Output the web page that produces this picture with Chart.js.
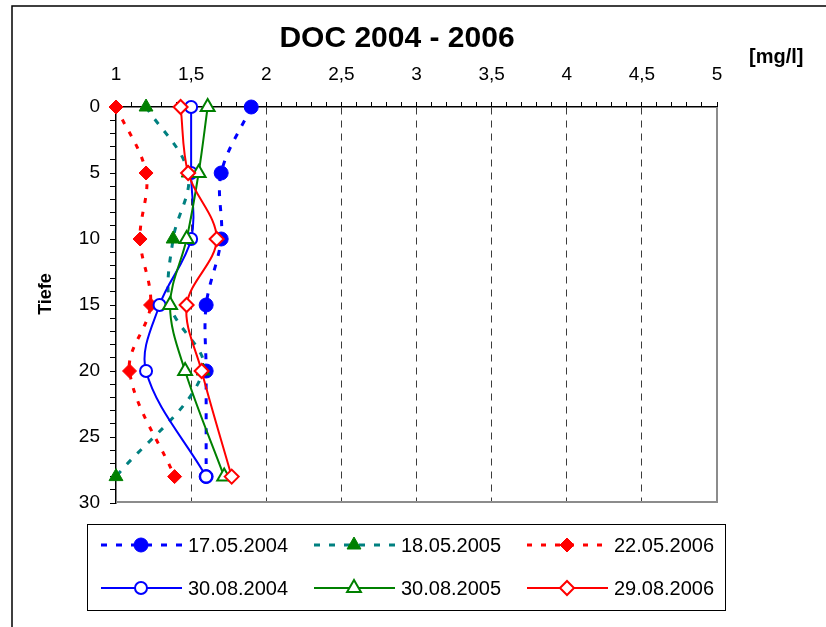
<!DOCTYPE html>
<html>
<head>
<meta charset="utf-8">
<script src="https://cdn.jsdelivr.net/npm/chart.js@4.4.1/dist/chart.umd.min.js"></script>
<style>
  html, body { margin: 0; padding: 0; background: #fff; }
  #chart { display: block; }
</style>
</head>
<body>
<canvas id="chart" width="826" height="627"></canvas>
<script>
// DOC depth profiles 2004 - 2006 (x = DOC in mg/l, y = depth)

const depths = [0, 5, 10, 15, 20, 28];

const doc170504 = [1.9, 1.7, 1.7, 1.6, 1.6, 1.6];
const doc180505 = [1.2, 1.48, 1.38, 1.36, 1.58, 1.0];
const doc220506 = [1.0, 1.2, 1.16, 1.23, 1.09, 1.39];
const doc300804 = [1.5, 1.5, 1.5, 1.29, 1.2, 1.6];
const doc300805 = [1.61, 1.55, 1.47, 1.36, 1.46, 1.72];
const doc290806 = [1.43, 1.48, 1.67, 1.47, 1.57, 1.77];

const xTickValues = [1, 1.5, 2, 2.5, 3, 3.5, 4, 4.5, 5];
const xTickLabels = ["1", "1,5", "2", "2,5", "3", "3,5", "4", "4,5", "5"];
const yTickValues = [0, 5, 10, 15, 20, 25, 30];
const yTickLabels = ["0", "5", "10", "15", "20", "25", "30"];

const FONT = "'Liberation Sans', Arial, sans-serif";

function points(values) {
  return values.map((v, i) => ({ x: v, y: depths[i] }));
}

function labelFor(values, labels, v) {
  const i = values.findIndex((t) => Math.abs(t - v) < 1e-6);
  return i >= 0 ? labels[i] : "";
}

const datasets = [
  {
    label: "17.05.2004",
    data: points(doc170504),
    borderColor: "#0000ff",
    borderWidth: 3,
    borderDash: [6, 9],
    pointStyle: "circle",
    pointRadius: 7,
    pointBackgroundColor: "#0000ff",
    pointBorderColor: "#0000ff",
    pointBorderWidth: 1,
    order: 5,
  },
  {
    label: "18.05.2005",
    data: points(doc180505),
    borderColor: "#008080",
    borderWidth: 3,
    borderDash: [6, 9],
    pointStyle: "triangle",
    pointRadius: 8,
    pointBackgroundColor: "#008000",
    pointBorderColor: "#008000",
    pointBorderWidth: 1,
    order: 4,
  },
  {
    label: "22.05.2006",
    data: points(doc220506),
    borderColor: "#ff0000",
    borderWidth: 3,
    borderDash: [5, 9],
    pointStyle: "rectRot",
    pointRadius: 7,
    pointBackgroundColor: "#ff0000",
    pointBorderColor: "#ff0000",
    pointBorderWidth: 1,
    order: 3,
  },
  {
    label: "30.08.2004",
    data: points(doc300804),
    borderColor: "#0000ff",
    borderWidth: 2,
    pointStyle: "circle",
    pointRadius: 6,
    pointBackgroundColor: "#ffffff",
    pointBorderColor: "#0000ff",
    pointBorderWidth: 2,
    order: 2,
  },
  {
    label: "30.08.2005",
    data: points(doc300805),
    borderColor: "#008000",
    borderWidth: 2,
    pointStyle: "triangle",
    pointRadius: 8,
    pointBackgroundColor: "#ffffff",
    pointBorderColor: "#008000",
    pointBorderWidth: 2,
    order: 1,
  },
  {
    label: "29.08.2006",
    data: points(doc290806),
    borderColor: "#ff0000",
    borderWidth: 2,
    pointStyle: "rectRot",
    pointRadius: 7,
    pointBackgroundColor: "#ffffff",
    pointBorderColor: "#ff0000",
    pointBorderWidth: 2,
    order: 0,
  },
];

// title, axis captions, plot frame and the boxed legend
const decorations = {
  id: "decorations",
  beforeDatasetsDraw(chart) {
    const { ctx, chartArea: a } = chart;
    ctx.save();
    ctx.strokeStyle = "#8c8c8c";
    ctx.lineWidth = 2;
    ctx.beginPath();
    ctx.moveTo(a.left, a.bottom - 1);
    ctx.lineTo(a.right + 1, a.bottom - 1);
    ctx.moveTo(a.right, a.top);
    ctx.lineTo(a.right, a.bottom);
    ctx.stroke();
    ctx.restore();
  },
  afterDraw(chart) {
    const ctx = chart.ctx;
    ctx.save();

    // outer frame
    ctx.strokeStyle = "#000";
    ctx.lineWidth = 1.5;
    ctx.strokeRect(12, 6, 840, 660);

    ctx.fillStyle = "#000";
    ctx.textBaseline = "alphabetic";
    ctx.textAlign = "center";
    ctx.font = "bold 30px " + FONT;
    ctx.fillText("DOC 2004 - 2006", 397, 47);

    ctx.textAlign = "left";
    ctx.font = "bold 20px " + FONT;
    ctx.fillText("[mg/l]", 749, 63);

    ctx.save();
    ctx.translate(46, 294);
    ctx.rotate(-Math.PI / 2);
    ctx.textAlign = "center";
    ctx.textBaseline = "middle";
    ctx.font = "bold 18px " + FONT;
    ctx.fillText("Tiefe", 0, 0);
    ctx.restore();

    // legend box
    ctx.strokeStyle = "#000";
    ctx.lineWidth = 1;
    ctx.strokeRect(87.5, 524.5, 638, 86);

    const cols = [101, 314, 527];
    const rows = [545, 588];
    chart.data.datasets.forEach((ds, i) => {
      const x = cols[i % 3];
      const y = rows[Math.floor(i / 3)];
      ctx.strokeStyle = ds.borderColor;
      ctx.lineWidth = ds.borderWidth;
      ctx.setLineDash(ds.borderDash || []);
      ctx.beginPath();
      ctx.moveTo(x, y);
      ctx.lineTo(x + 81, y);
      ctx.stroke();
      ctx.setLineDash([]);

      ctx.fillStyle = ds.pointBackgroundColor;
      ctx.strokeStyle = ds.pointBorderColor;
      ctx.lineWidth = ds.pointBorderWidth;
      Chart.helpers.drawPoint(ctx, {
        pointStyle: ds.pointStyle,
        radius: ds.pointRadius,
        rotation: 0,
        borderWidth: ds.pointBorderWidth,
      }, x + 40, y);

      ctx.fillStyle = "#000";
      ctx.font = "20px " + FONT;
      ctx.textAlign = "left";
      ctx.textBaseline = "alphabetic";
      ctx.fillText(ds.label, x + 87, y + 7);
    });

    ctx.restore();
  },
};

Chart.defaults.font.family = FONT;
Chart.defaults.color = "#000";

new Chart(document.getElementById("chart"), {
  type: "scatter",
  data: { datasets: datasets.map((d) => Object.assign({ clip: false }, d)) },
  options: {
    responsive: false,
    animation: false,
    events: [],
    showLine: true,
    elements: {
      line: { tension: 0.35, fill: false },
    },
    layout: {
      padding: { left: 0, top: 0, right: 109, bottom: 124 },
    },
    plugins: {
      legend: { display: false },
      title: { display: false },
      tooltip: { enabled: false },
    },
    scales: {
      x: {
        type: "linear",
        position: "top",
        min: 1,
        max: 5,
        afterFit: (scale) => { scale.height = 107; },
        ticks: {
          stepSize: 0.1,
          autoSkip: false,
          maxRotation: 0,
          padding: 16,
          font: { size: 19 },
          callback: (v) => labelFor(xTickValues, xTickLabels, v),
        },
        grid: {
          drawOnChartArea: true,
          drawTicks: true,
          tickLength: 5,
          tickColor: "#000",
          lineWidth: 1,
          color: (c) => {
            const v = c.tick ? c.tick.value : 0;
            const half = Math.abs(v * 2 - Math.round(v * 2)) < 1e-6;
            return half && v > 1.01 && v < 4.99 ? "#3c3c3c" : "rgba(0,0,0,0)";
          },
        },
        border: { color: "#000", width: 1.5, dash: [7, 6] },
      },
      y: {
        type: "linear",
        reverse: true,
        min: 0,
        max: 30,
        afterFit: (scale) => { scale.width = 116; },
        ticks: {
          stepSize: 1,
          autoSkip: false,
          padding: 10,
          font: { size: 19 },
          callback: (v) => labelFor(yTickValues, yTickLabels, v),
        },
        grid: {
          drawOnChartArea: false,
          drawTicks: true,
          tickLength: 6,
          tickColor: "#000",
        },
        border: { color: "#000", width: 1.5 },
      },
    },
  },
  plugins: [decorations],
});
</script>
</body>
</html>
